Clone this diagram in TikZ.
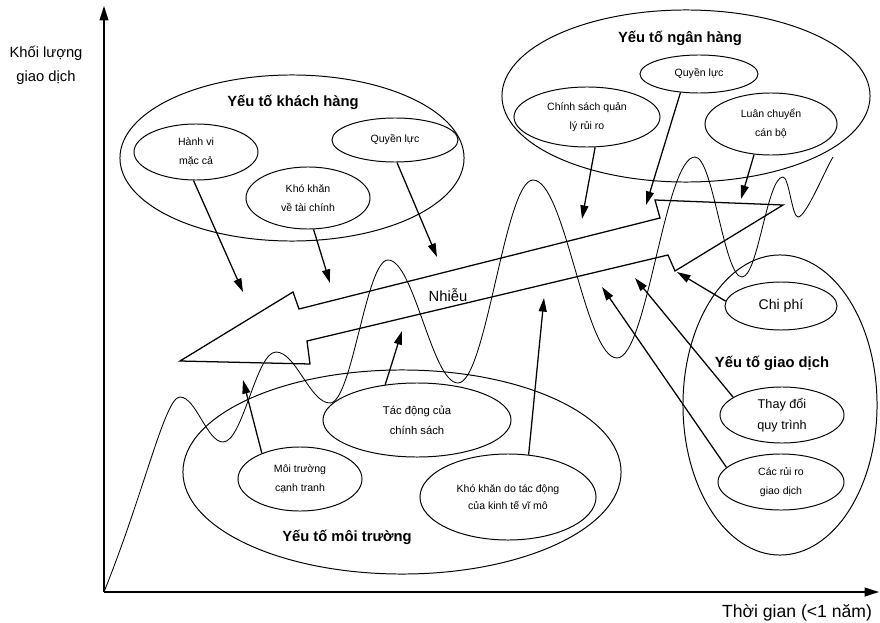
\documentclass[tikz,border=0pt]{standalone}
\usepackage{fontspec}
\setmainfont{Liberation Sans}
\usetikzlibrary{shapes.geometric, arrows.meta}

\begin{document}
\begin{tikzpicture}[
  x=0.025cm, y=-0.025cm,
  group/.style={ellipse, draw, line width=0.7pt, inner sep=0pt},
  factor/.style={ellipse, draw, line width=0.7pt, inner sep=0pt, align=center, font=\fontsize{7.5}{13.5}\selectfont},
  grouptitle/.style={font=\fontsize{10.5}{13}\selectfont\bfseries},
  axislabel/.style={font=\fontsize{10.5}{17}\selectfont, align=center},
  feed/.style={-{Triangle[length=3.4mm, width=2mm]}, line width=0.9pt},
  axis/.style={-{Triangle[length=3.6mm, width=2.2mm]}, line width=1.1pt},
  noise/.style={line width=0.9pt, line join=miter},
  wave/.style={line width=0.6pt}
]
  \useasboundingbox (0,0) rectangle (880,623);

  % Axes
  \coordinate (origin) at (104,592);
  \coordinate (ytop) at (104,6);
  \coordinate (xend) at (879,592);
  \draw[axis] (origin) -- (ytop);
  \draw[axis] (origin) -- (xend);
  \node[axislabel] (ylabel) at (46,65) {Khối lượng\\giao dịch};
  \node[axislabel, font=\fontsize{12.5}{15}\selectfont] (xlabel) at (797,613) {Thời gian (<1 năm)};

  % Volume curve
  \draw[wave] (origin) .. controls (145,490) and (165,397) .. (180,397)
    .. controls (196,397) and (207,442) .. (223,442)
    .. controls (243,442) and (256,352) .. (276,352)
    .. controls (296,352) and (310,403) .. (330,403)
    .. controls (352,403) and (366,260) .. (388,260)
    .. controls (414,260) and (432,383) .. (458,383)
    .. controls (486,383) and (505,180) .. (533,180)
    .. controls (565,180) and (585,358) .. (617,358)
    .. controls (647,358) and (665,157) .. (695,157)
    .. controls (713,157) and (724,277) .. (742,277)
    .. controls (758,277) and (767,177) .. (783,177)
    .. controls (789,177) and (792,217) .. (798,217)
    .. controls (806,217) and (825,170) .. (833,157);

  % Noise arrow
  \coordinate (ntip) at (180,361);
  \coordinate (nbarbup) at (293,292);
  \coordinate (nnotchup) at (299,309);
  \coordinate (nstepup) at (660,218);
  \coordinate (nstepupr) at (655,200);
  \coordinate (nhead) at (783,205);
  \coordinate (nbarbdown) at (675,271);
  \coordinate (nstepdown) at (668,255);
  \coordinate (nnotchdown) at (307,341);
  \coordinate (nbarblow) at (310,364);
  \draw[noise] (ntip) -- (nbarbup) -- (nnotchup) -- (nstepup) -- (nstepupr) -- (nhead)
    -- (nbarbdown) -- (nstepdown) -- (nnotchdown) -- (nbarblow) -- cycle;
  \node[font=\fontsize{10.5}{13}\selectfont] (noise) at (448,295) {Nhiễu};

  % Customer factors
  \node[group, minimum width=8.6cm, minimum height=4.15cm] (khgroup) at (292,158) {};
  \node[grouptitle] (khtitle) at (293,102) {Yếu tố khách hàng};
  \node[factor, minimum width=3.1cm, minimum height=1.4cm] (hanhvi) at (196,152) {Hành vi\\mặc cả};
  \node[factor, minimum width=3.1cm, minimum height=1.55cm] (taichinh) at (308,198) {Khó khăn\\về tài chính};
  \node[factor, minimum width=3.15cm, minimum height=1.1cm] (quyenkh) at (395,140) {Quyền lực};

  % Bank factors
  \node[group, minimum width=9.2cm, minimum height=4.3cm] (nhgroup) at (686,96) {};
  \node[grouptitle] (nhtitle) at (680,38) {Yếu tố ngân hàng};
  \node[factor, minimum width=2.95cm, minimum height=0.95cm] (quyennh) at (699,74) {Quyền lực};
  \node[factor, minimum width=3.65cm, minimum height=1.5cm] (chinhsach) at (587,117) {Chính sách quản\\lý rủi ro};
  \node[factor, minimum width=3.3cm, minimum height=1.55cm] (luanchuyen) at (771,124) {Luân chuyển\\cán bộ};

  % Transaction factors
  \node[group, minimum width=4.85cm, minimum height=7.5cm] (gdgroup) at (780,405) {};
  \node[grouptitle] (gdtitle) at (772,363) {Yếu tố giao dịch};
  \node[factor, minimum width=2.8cm, minimum height=1.2cm, font=\fontsize{10}{13}\selectfont] (chiphi) at (781,306) {Chi phí};
  \node[factor, minimum width=3.1cm, minimum height=1.4cm, font=\fontsize{9}{15}\selectfont] (quytrinh) at (782,415) {Thay đổi\\quy trình};
  \node[factor, minimum width=3.15cm, minimum height=1.4cm] (ruiro) at (781,482) {Các rủi ro\\giao dịch};

  % Environment factors
  \node[group, minimum width=10.95cm, minimum height=5.1cm] (mtgroup) at (402,472) {};
  \node[grouptitle] (mttitle) at (347,537) {Yếu tố môi trường};
  \node[factor, minimum width=3.1cm, minimum height=1.6cm] (canhtranh) at (300,479) {Môi trường\\cạnh tranh};
  \node[factor, minimum width=4.7cm, minimum height=1.85cm, font=\fontsize{8}{14}\selectfont] (tacdong) at (417,420) {Tác động của\\chính sách};
  \node[factor, minimum width=4.4cm, minimum height=2.15cm, font=\fontsize{7.5}{12.5}\selectfont] (vimo) at (508,497) {Khó khăn do tác động\\của kinh tế vĩ mô};

  % Arrow ends on the noise arrow
  \coordinate (thanhvi) at (243,292);
  \coordinate (ttaichinh) at (330,283);
  \coordinate (tquyenkh) at (437,257);
  \coordinate (tchinhsach) at (582,219);
  \coordinate (tquyennh) at (646,205);
  \coordinate (tluanchuyen) at (741,199);
  \coordinate (tchiphi) at (677,272);
  \coordinate (tquytrinh) at (635,278);
  \coordinate (truiro) at (602,287);
  \coordinate (tcanhtranh) at (243,380);
  \coordinate (ttacdong) at (402,331);
  \coordinate (tvimo) at (544,298);

  % Arrows
  \draw[feed] (hanhvi.-95) -- (thanhvi);
  \draw[feed] (taichinh.-80) -- (ttaichinh);
  \draw[feed] (quyenkh.-85) -- (tquyenkh);
  \draw[feed] (chinhsach.-75) -- (tchinhsach);
  \draw[feed] (quyennh.-135) -- (tquyennh);
  \draw[feed] (luanchuyen.-119) -- (tluanchuyen);
  \draw[feed] (chiphi.175) -- (tchiphi);
  \draw[feed] (quytrinh.160) -- (tquytrinh);
  \draw[feed] (ruiro.165) -- (truiro);
  \draw[feed] (canhtranh.146) -- (tcanhtranh);
  \draw[feed] (tacdong.132) -- (ttacdong);
  \draw[feed] (vimo.64) -- (tvimo);
\end{tikzpicture}
\end{document}
